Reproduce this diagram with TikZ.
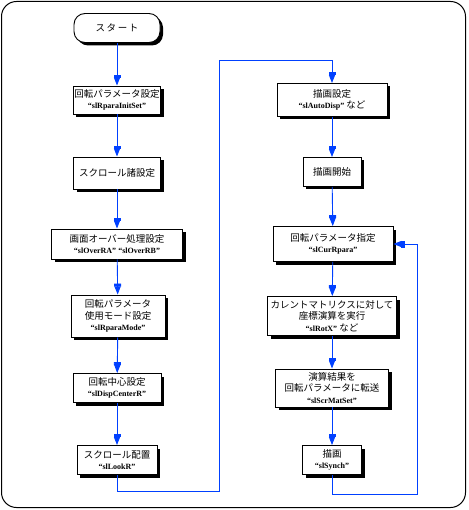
\documentclass[tikz,border=0pt]{standalone}
\usepackage{fontspec}
\usepackage{tikz}
\usetikzlibrary{arrows.meta,shadows}
\setmainfont{Liberation Serif}
\newfontfamily\jp{Noto Sans CJK JP}
\definecolor{flowblue}{RGB}{0,64,255}
\newcommand{\fnname}[1]{{\rmfamily\fontsize{8}{9}\selectfont\bfseries “#1”}}
\tikzset{
  procbox/.style={draw, fill=white, line width=0.9pt, align=center, inner sep=1pt,
    font=\jp\fontsize{9.5}{11.5}\selectfont,
    drop shadow={shadow xshift=3pt, shadow yshift=-3pt, fill=black, opacity=1}},
  termbox/.style={procbox, rounded corners=11pt},
  flow/.style={flowblue, line width=0.9pt, -{Rectangle[length=3pt,width=7pt]Triangle[length=8pt,width=6pt]}},
  flowline/.style={flowblue, line width=0.9pt}
}

\begin{document}
\begin{tikzpicture}[x=1pt,y=-1pt]
      \useasboundingbox (0,0) rectangle (468,510);
      \draw[rounded corners=15pt, line width=1pt] (1.5,1.5) rectangle (465.5,507.5);

      \node[termbox, minimum width=86pt, minimum height=29pt] (start) at (117,28) {ス\,タ\,ー\,ト};
      \node[procbox, minimum width=86pt, minimum height=28pt] (initset) at (117,100) {回転パラメータ設定\\\fnname{slRparaInitSet}};
      \node[procbox, minimum width=87pt, minimum height=32pt] (scrset) at (117,173) {スクロール諸設定};
      \node[procbox, minimum width=131pt, minimum height=30pt] (overset) at (117,244) {画面オーバー処理設定\\\fnname{slOverRA}\ \fnname{slOverRB}};
      \node[procbox, minimum width=94pt, minimum height=42pt] (modeset) at (118,316) {回転パラメータ\\使用モード設定\\\fnname{slRparaMode}};
      \node[procbox, minimum width=88pt, minimum height=29pt] (centerset) at (117,388) {回転中心設定\\\fnname{slDispCenterR}};
      \node[procbox, minimum width=80pt, minimum height=29pt] (lookset) at (117,460) {スクロール配置\\\fnname{slLookR}};

      \node[procbox, minimum width=110pt, minimum height=33pt] (autodisp) at (332,100) {描画設定\\\fnname{slAutoDisp} など};
      \node[procbox, minimum width=58pt, minimum height=29pt] (dispstart) at (332,172) {描画開始};
      \node[procbox, minimum width=120pt, minimum height=35pt] (curpara) at (333,244) {回転パラメータ指定\\\fnname{slCurRpara}};
      \node[procbox, minimum width=129pt, minimum height=39pt] (rotcalc) at (332,316) {カレントマトリクスに対して\\座標演算を実行\\\fnname{slRotX} など};
      \node[procbox, minimum width=113pt, minimum height=38pt] (matset) at (332,388) {演算結果を\\回転パラメータに転送\\\fnname{slScrMatSet}};
      \node[procbox, minimum width=59pt, minimum height=29pt] (synch) at (332,460) {描画\\\fnname{slSynch}};

      \coordinate (jumpdown) at (219,491);
      \coordinate (jumpup) at (219,60);
      \coordinate (loopback) at (417,494);

      \draw[flow] (start) -- (initset);
      \draw[flow] (initset) -- (scrset);
      \draw[flow] (scrset) -- (overset);
      \draw[flow] (overset) -- (modeset);
      \draw[flow] (modeset) -- (centerset);
      \draw[flow] (centerset) -- (lookset);
      \draw[flow] (lookset.south) |- (jumpdown) -- (jumpup) -| (autodisp.north);
      \draw[flow] (autodisp) -- (dispstart);
      \draw[flow] (dispstart) -- (curpara);
      \draw[flow] (curpara) -- (rotcalc);
      \draw[flow] (rotcalc) -- (matset);
      \draw[flow] (matset) -- (synch);
      \draw[flow] (synch.south) |- (loopback) |- (curpara.east);
    \end{tikzpicture}
\end{document}
